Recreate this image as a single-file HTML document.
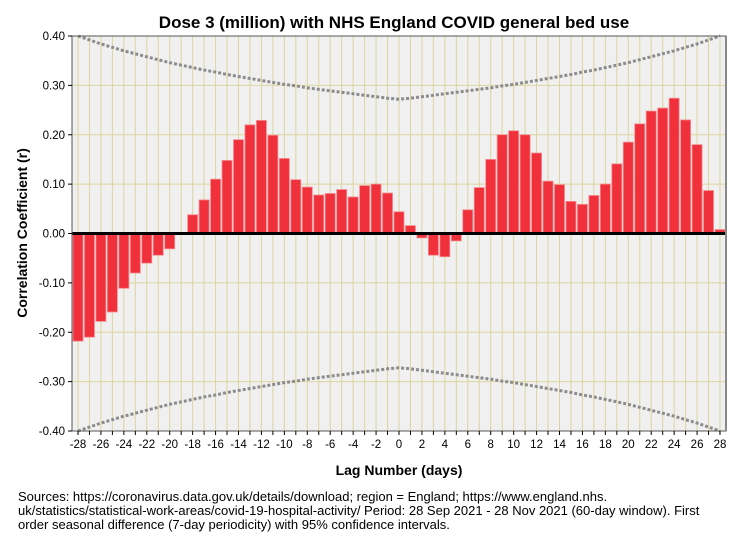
<!DOCTYPE html>
<html><head><meta charset="utf-8"><style>
body{margin:0;background:#fff;font-family:"Liberation Sans",sans-serif;}
#wrap{position:relative;width:747px;height:541px;overflow:hidden;}
.foot{position:absolute;left:18px;top:490px;font-size:13px;line-height:14px;color:#000;width:729px;white-space:nowrap;}
</style></head><body>
<div id="wrap">
<svg id="chart" width="747" height="490" style="position:absolute;left:0;top:0"></svg>
<div class="foot">Sources: https://coronavirus.data.gov.uk/details/download; region = England; https://www.england.nhs.<br>uk/statistics/statistical-work-areas/covid-19-hospital-activity/ Period: 28 Sep 2021 - 28 Nov 2021 (60-day window). First<br>order seasonal difference (7-day periodicity) with 95% confidence intervals.</div>
</div>
<script>
const lags=[-28,-27,-26,-25,-24,-23,-22,-21,-20,-19,-18,-17,-16,-15,-14,-13,-12,-11,-10,-9,-8,-7,-6,-5,-4,-3,-2,-1,0,1,2,3,4,5,6,7,8,9,10,11,12,13,14,15,16,17,18,19,20,21,22,23,24,25,26,27,28];
const corr=[-0.218,-0.210,-0.178,-0.159,-0.111,-0.080,-0.060,-0.044,-0.031,0,0.038,0.068,0.110,0.148,0.190,0.220,0.229,0.199,0.152,0.109,0.094,0.078,0.081,0.089,0.074,0.097,0.100,0.082,0.044,0.016,-0.009,-0.044,-0.047,-0.015,0.048,0.093,0.150,0.200,0.208,0.200,0.163,0.106,0.099,0.065,0.059,0.077,0.100,0.141,0.185,0.222,0.248,0.254,0.274,0.230,0.180,0.087,0.008];
const ciAbsLag=[0.272,0.274,0.277,0.280,0.283,0.286,0.289,0.292,0.295,0.299,0.302,0.306,0.310,0.314,0.318,0.322,0.327,0.331,0.336,0.341,0.346,0.352,0.358,0.364,0.370,0.377,0.384,0.392,0.400];
const yTicks=[0.4,0.3,0.2,0.1,0,-0.1,-0.2,-0.3,-0.4];
const xTickLabels=[-28,-26,-24,-22,-20,-18,-16,-14,-12,-10,-8,-6,-4,-2,0,2,4,6,8,10,12,14,16,18,20,22,24,26,28];

const NS="http://www.w3.org/2000/svg";
const svg=document.getElementById('chart');
const L=72,R=726,T=36,B=431;
const xS=k=>78+(k+28)*(720-78)/56;
const yS=v=>T+(0.4-v)/0.8*(B-T);
function mk(tag,attrs,parent){const e=document.createElementNS(NS,tag);for(const a in attrs)e.setAttribute(a,attrs[a]);(parent||svg).appendChild(e);return e;}

let e=mk('rect',{x:L,y:T,width:R-L,height:B-T,fill:'#f0f0f0'});


lags.forEach(k=>{const g=mk('line',{x1:xS(k),x2:xS(k),y1:T,y2:B,stroke:'#ddd49e','stroke-width':1});

});
yTicks.forEach(v=>{const g=mk('line',{x1:L,x2:R,y1:yS(v),y2:yS(v),stroke:'#ddd49e','stroke-width':1});

});
const bw=10;
lags.forEach((k,i)=>{const v=corr[i];if(v===0)return;
const y0=yS(0),y1=yS(v);
const b=mk('rect',{x:xS(k)-bw/2,y:Math.min(y0,y1),width:bw,height:Math.abs(y1-y0),fill:'#f0313b',stroke:'#f58a8f','stroke-width':0.8});

});
let up='',lo='';
lags.forEach((k,i)=>{const c=ciAbsLag[Math.abs(k)];up+=(i?'L':'M')+xS(k)+','+yS(c);lo+=(i?'L':'M')+xS(k)+','+yS(-c);});
e=mk('path',{d:up,fill:'none',stroke:'#8c8c8c','stroke-width':3,'stroke-dasharray':'3,2'});


e=mk('path',{d:lo,fill:'none',stroke:'#8c8c8c','stroke-width':3,'stroke-dasharray':'3,2'});


e=mk('line',{x1:L,x2:R,y1:yS(0),y2:yS(0),stroke:'#000','stroke-width':3});


e=mk('rect',{x:L,y:T,width:R-L,height:B-T,fill:'none',stroke:'#555','stroke-width':1});


e=mk('line',{x1:R,x2:R,y1:T,y2:B,stroke:'#888','stroke-width':2});


yTicks.forEach(v=>{mk('line',{x1:L-4,x2:L,y1:yS(v),y2:yS(v),stroke:'#000'});
const t=mk('text',{x:L-7,y:yS(v)+4,'text-anchor':'end','font-size':11.5,fill:'#000'});t.textContent=v.toFixed(2);

});
lags.forEach(k=>{mk('line',{x1:xS(k),x2:xS(k),y1:B,y2:B+4,stroke:'#000'});});
xTickLabels.forEach(k=>{const t=mk('text',{x:xS(k),y:B+17,'text-anchor':'middle','font-size':11.5,fill:'#000'});t.textContent=k;

});
e=mk('text',{x:394,y:28,'text-anchor':'middle','font-size':17,'font-weight':'bold'});e.textContent='Dose 3 (million) with NHS England COVID general bed use';


e=mk('text',{x:399,y:475,'text-anchor':'middle','font-size':14,'font-weight':'bold'});e.textContent='Lag Number (days)';


e=mk('text',{x:27,y:233,'text-anchor':'middle','font-size':14,'font-weight':'bold',transform:'rotate(-90 27 233)'});e.textContent='Correlation Coefficient (r)';


</script>
</body></html>
